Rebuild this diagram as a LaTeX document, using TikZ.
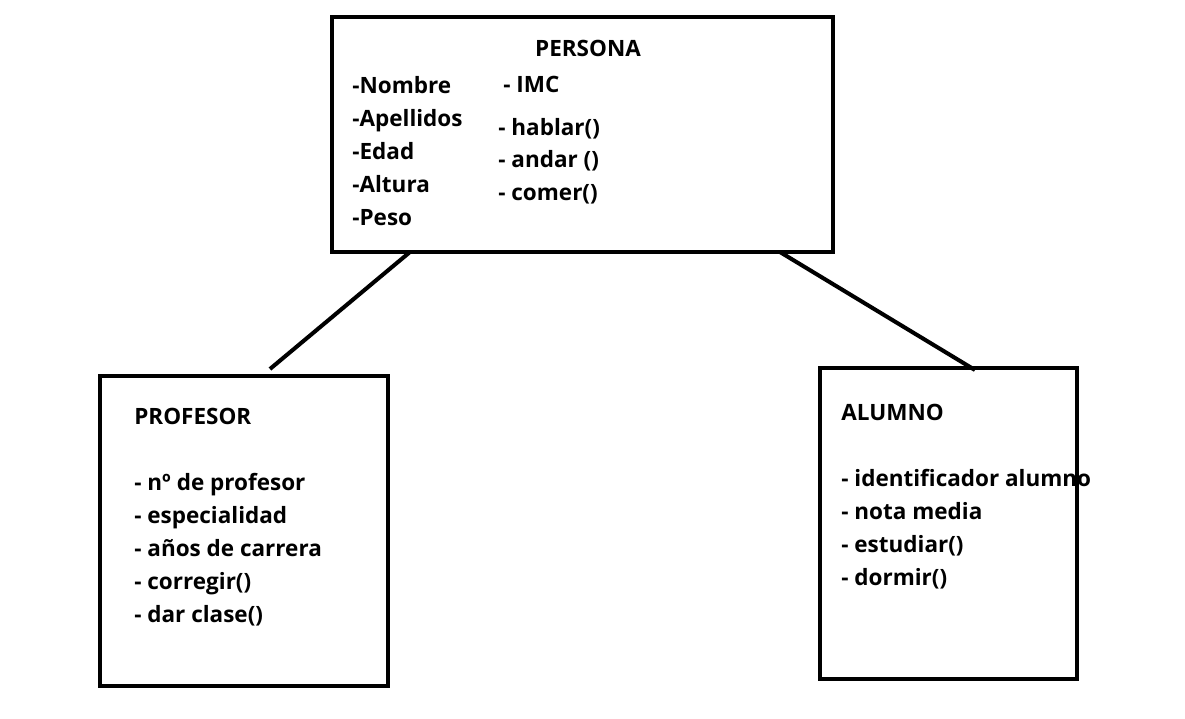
\documentclass[tikz,border=0pt]{standalone}
\usepackage{fontspec}
\setmainfont{Open Sans}
\tikzset{classbox/.style={draw=black, line width=2.3pt},
 link/.style={draw=black, line width=2.3pt},
 item/.style={anchor=base west, inner sep=0pt, yshift=-0.19cm, font=\fontsize{12.8}{15}\selectfont\bfseries},
 }

\begin{document}
\begin{tikzpicture}[x=0.02cm, y=-0.02cm]
        \useasboundingbox (0,0) rectangle (1185,719);
        % the three classes
        \draw[classbox] (332,17) rectangle (833,252);
        \draw[classbox] (100,376) rectangle (388,686);
        \draw[classbox] (820,368) rectangle (1077,679);
        \coordinate (persona) at (332,252);
        \coordinate (profesor) at (100,376);
        \coordinate (alumno) at (820,368);
        % persona
        \node[item, anchor=base] (pname) at (588,47) {PERSONA};
        \node[item] (p1) at (352,84) {-Nombre};
        \node[item] (p2) at (352,117) {-Apellidos};
        \node[item] (p3) at (352,150) {-Edad};
        \node[item] (p4) at (352,183) {-Altura};
        \node[item] (p5) at (352,216) {-Peso};
        \node[item] (p6) at (503,83) {- IMC};
        \node[item] (p7) at (498,126) {- hablar()};
        \node[item] (p8) at (498,158) {- andar ()};
        \node[item] (p9) at (498,191) {- comer()};
        % profesor
        \node[item] (rname) at (134,415) {PROFESOR};
        \node[item] (r1) at (134,481) {- nº de profesor};
        \node[item] (r2) at (134,514) {- especialidad};
        \node[item] (r3) at (134,547) {- años de carrera};
        \node[item] (r4) at (134,580) {- corregir()};
        \node[item] (r5) at (134,613) {- dar clase()};
        % alumno
        \node[item] (aname) at (841,411) {ALUMNO};
        \node[item] (a1) at (841,477) {- identificador alumno};
        \node[item] (a2) at (841,510) {- nota media};
        \node[item] (a3) at (841,543) {- estudiar()};
        \node[item] (a4) at (841,576) {- dormir()};
        % links
        \draw[link] ([xshift=1.56cm]persona) -- ([xshift=3.4cm,yshift=0.14cm]profesor);
        \draw[link] ([xshift=8.96cm]persona) -- ([xshift=3.1cm,yshift=-0.04cm]alumno);
    \end{tikzpicture}
\end{document}
